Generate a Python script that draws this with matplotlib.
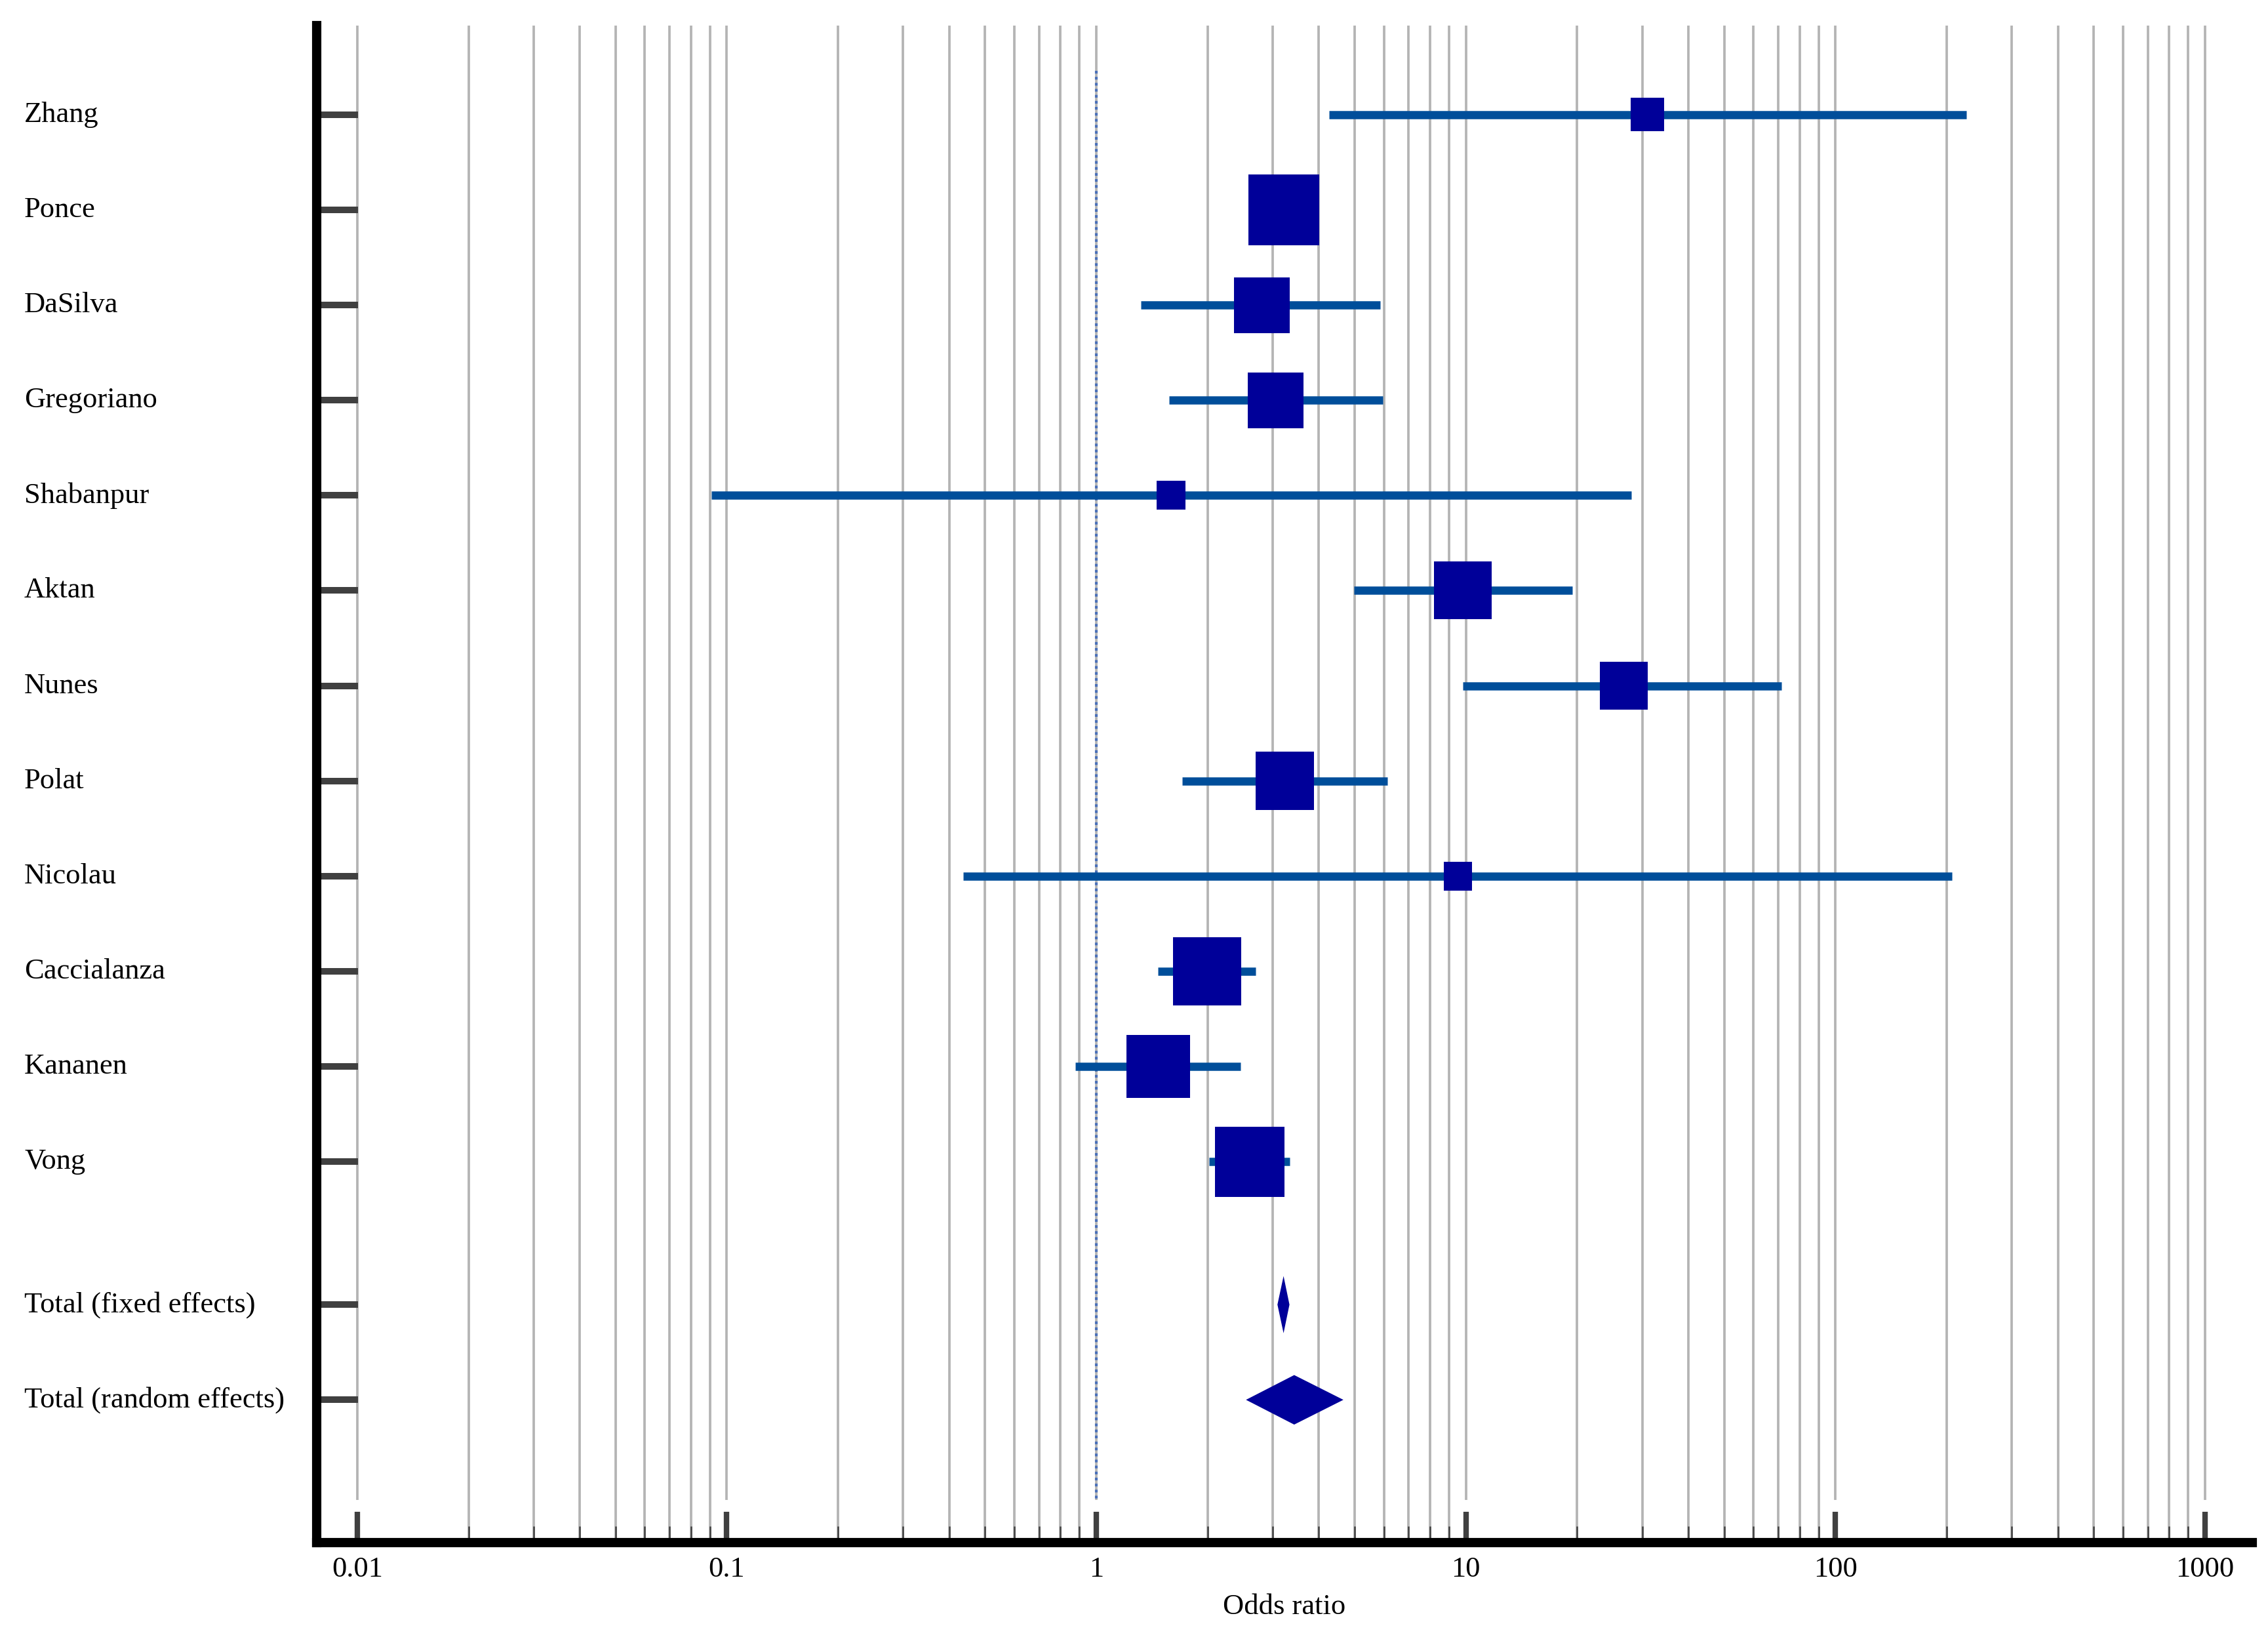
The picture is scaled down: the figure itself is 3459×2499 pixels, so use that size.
import numpy as np
import matplotlib
matplotlib.use("Agg")
import matplotlib.pyplot as plt
from matplotlib.transforms import blended_transform_factory

# ------------------------------------------------------------------
#     forest plot data
# ------------------------------------------------------------------
studies = ["Zhang", "Ponce", "DaSilva", "Gregoriano", "Shabanpur", "Aktan",
           "Nunes", "Polat", "Nicolau", "Caccialanza", "Kananen", "Vong"]
odds_ratio = [31.0, 3.22, 2.80, 3.06, 1.59, 9.8, 26.7, 3.24, 9.5, 1.99, 1.47, 2.60]
ci_low = [4.26, 2.70, 1.32, 1.57, 0.091, 4.97, 9.8, 1.71, 0.436, 1.47, 0.877, 2.02]
ci_high = [226.0, 3.85, 5.86, 5.96, 28.0, 19.4, 71.3, 6.13, 207.0, 2.70, 2.46, 3.34]
weights = [3.1, 13.7, 8.5, 8.5, 2.3, 9.1, 6.3, 9.3, 2.2, 12.7, 10.9, 13.4]

pooled_labels = ["Total (fixed effects)", "Total (random effects)"]
pooled_or = [3.21, 3.43]
pooled_low = [3.09, 2.54]
pooled_high = [3.33, 4.66]

xtick_values = [0.01, 0.1, 1, 10, 100, 1000]
xtick_labels = ["0.01", "0.1", "1", "10", "100", "1000"]

# ------------------------------------------------------------------
#     style
# ------------------------------------------------------------------
plt.rcParams['font.family'] = ['Liberation Serif', 'DejaVu Serif']
box_color = '#000099'
line_color = '#004e9a'
grid_color = '#b4b4b4'
tick_color = '#404040'

fig = plt.figure(figsize=(3459 / 300, 2499 / 300), dpi=300)
ax = fig.add_axes([0.1396, 0.0588, 0.9931 - 0.1396, 0.9844 - 0.0588])
ax.set_xscale('log')
ax.set_xlim(10 ** -2.110, 10 ** 3.128)
ax.set_ylim(15, -0.935)

rows = np.arange(len(studies))
pooled_rows = [len(studies) + 0.5, len(studies) + 1.5]

# vertical grid at every 1..9 x decade between 0.01 and 1000
grid_minor = [m * 10.0 ** k for k in range(-2, 3) for m in range(2, 10)]
ax.vlines(grid_minor, -0.935, 15, color=grid_color, lw=0.9, zorder=0)
ax.vlines(xtick_values, -0.935, 14.55, color=grid_color, lw=0.9, zorder=0)

# no effect line
ax.vlines(1, -0.46, 14.55, color='#4a70b8', lw=1.0, linestyles=(0, (1, 1.2)), zorder=1)

# confidence intervals and weighted squares
ax.hlines(rows, ci_low, ci_high, color=line_color, lw=3.0, zorder=2)
sides = 7.0 * np.sqrt(weights)
ax.scatter(odds_ratio, rows, s=sides ** 2, marker='s', color=box_color,
           linewidths=0, zorder=3)

# pooled diamonds
half_h = [0.30, 0.26]
for y, est, lo, hi, h in zip(pooled_rows, pooled_or, pooled_low, pooled_high, half_h):
    ax.fill([lo, est, hi, est], [y, y - h, y, y + h], color=box_color, lw=0, zorder=3)

# row labels
trans = blended_transform_factory(fig.transFigure, ax.transData)
for y, name in zip(list(rows) + pooled_rows, studies + pooled_labels):
    ax.text(0.0107, y, name, transform=trans, ha='left', va='center', fontsize=10.7)

# axes, ticks
ax.set_yticks(list(rows) + pooled_rows)
ax.set_yticklabels([])
ax.tick_params(axis='y', direction='in', length=15, width=2.4, color=tick_color)
ax.set_xticks(xtick_values)
ax.set_xticklabels(xtick_labels, fontsize=10.7)
ax.xaxis.set_minor_locator(matplotlib.ticker.FixedLocator(grid_minor))
ax.xaxis.set_minor_formatter(matplotlib.ticker.NullFormatter())
ax.tick_params(axis='x', which='major', direction='in', length=11.3, width=2,
               color=tick_color, pad=5)
ax.tick_params(axis='x', which='minor', direction='in', length=6, width=0.6,
               color=tick_color)
ax.set_xlabel('Odds ratio', fontsize=10.7, labelpad=4)

for side in ['top', 'right']:
    ax.spines[side].set_visible(False)
for side in ['left', 'bottom']:
    ax.spines[side].set_linewidth(3.4)
    ax.spines[side].set_color('black')
    ax.spines[side].set_zorder(5)

fig.savefig('out.png', dpi=300)
